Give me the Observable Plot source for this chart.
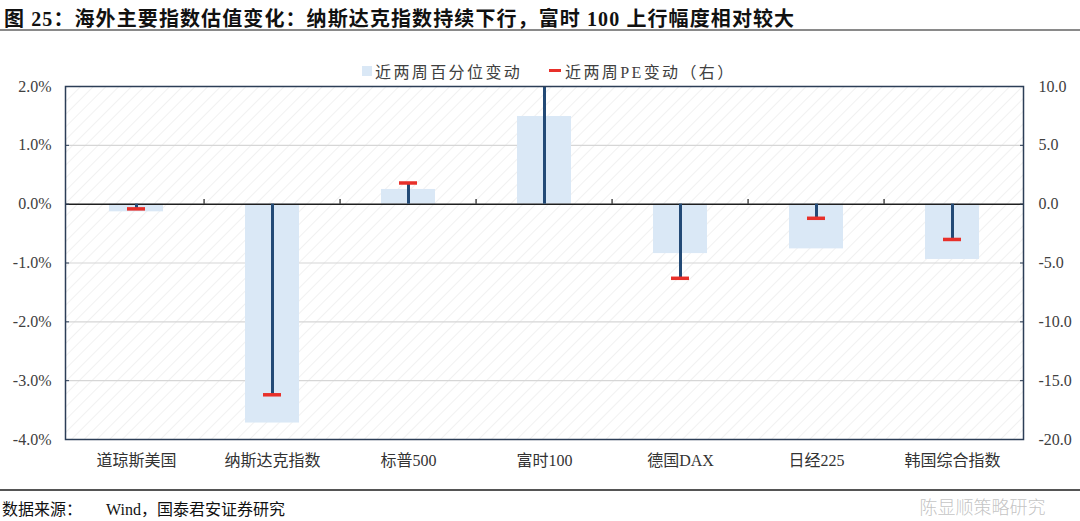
<!DOCTYPE html>
<html>
<head>
<meta charset="utf-8">
<script src="https://cdn.jsdelivr.net/npm/d3@7"></script>
<script src="https://cdn.jsdelivr.net/npm/@observablehq/plot@0.6"></script>
<style>
  html, body { margin: 0; padding: 0; background: #fff; }
  #wrap { position: relative; width: 1080px; height: 521px; overflow: hidden; font-family: "Liberation Serif", "Noto Sans CJK SC", serif; color: #404040; }
  #title { position: absolute; left: 4px; top: 3px; font-size: 20px; font-weight: bold; color: #111; white-space: nowrap; letter-spacing: 1.1px; }
  #titleRule { position: absolute; left: 0; top: 29px; width: 1080px; height: 2px; background: #8a8a8a; }
  #legend { position: absolute; top: 59px; left: 0; width: 1080px; height: 22px; font-size: 16px; color: #404040; }
  .lg { position: absolute; top: 0; white-space: nowrap; letter-spacing: 2.4px; }
  .sw { position: absolute; }
  #footRule { position: absolute; left: 0; top: 489px; width: 1080px; height: 2px; background: #555; }
  #foot { position: absolute; left: 2px; top: 496px; font-size: 16px; color: #111; white-space: nowrap; }
  svg { position: absolute; left: 0; top: 0; }
</style>
</head>
<body>
<div id="wrap">
  <div id="title">图 25：海外主要指数估值变化：纳斯达克指数持续下行，富时 100 上行幅度相对较大</div>
  <div id="titleRule"></div>
  <div id="legend">
    <div class="sw" style="left:362px;top:7px;width:10px;height:10px;background:#dae8f6;"></div>
    <div class="lg" style="left:375px;">近两周百分位变动</div>
    <div class="sw" style="left:549px;top:10px;width:12px;height:3px;background:#e8302a;"></div>
    <div class="lg" style="left:565px;">近两周PE变动（右）</div>
  </div>
  <div id="footRule"></div>
  <div id="foot">数据来源：&nbsp;&nbsp;&nbsp;&nbsp;&nbsp;&nbsp;Wind，国泰君安证券研究</div>
</div>
<script>
const categories = ["道琼斯美国", "纳斯达克指数", "标普500", "富时100", "德国DAX", "日经225", "韩国综合指数"];
const pctChange = [-0.13, -3.72, 0.25, 1.49, -0.84, -0.76, -0.94];   // left axis, %
const peChange  = [-0.4, -16.2, 1.8, 10.6, -6.3, -1.2, -3.0];        // right axis
const leftTicks = [2, 1, 0, -1, -2, -3, -4];
const rightTicks = [10, 5, 0, -5, -10, -15, -20];
const watermark = ["陈显顺策略研究"];
const ratio = 5; // right axis units per left axis unit

const data = categories.map((c, i) => ({cat: c, pct: pctChange[i], pe: peChange[i], peScaled: peChange[i] / ratio}));

const W = 1080, H = 521, mL = 65, mR = 57, mT = 86, mB = 82;
const step = (W - mL - mR) / categories.length;
const font = "Liberation Serif, Noto Sans CJK SC, serif";

const chart = Plot.plot({
  width: W, height: H,
  marginLeft: mL, marginRight: mR, marginTop: mT, marginBottom: mB,
  style: {fontFamily: font, fontSize: "16px", color: "#404040", background: "transparent"},
  x: {domain: categories, paddingInner: 0.6, paddingOuter: 0.3, axis: null, label: null},
  y: {domain: [-4, 2], axis: null, label: null},
  marks: [
    Plot.frame({fill: "url(#hatch)", stroke: "none"}),
    Plot.gridY(leftTicks.filter(d => d !== 0 && d !== 2 && d !== -4), {stroke: "#d6d6d6", strokeOpacity: 1, strokeWidth: 1.2}),
    Plot.barY(data, {x: "cat", y: "pct", fill: "#dae8f6"}),
    Plot.ruleY([0], {stroke: "#1e1e1e", strokeWidth: 1.5}),
    Plot.ruleX(categories.slice(1), {x: d => d, y1: 0, y2: 0.08, dx: -step / 2, stroke: "#1e1e1e", strokeWidth: 1.2}),
    Plot.ruleX(data, {x: "cat", y1: 0, y2: "peScaled", stroke: "#234a76", strokeWidth: 3, clip: true}),
    Plot.tickY(data, {x: "cat", y: "peScaled", stroke: "#e8302a", strokeWidth: 3.5, insetLeft: 18, insetRight: 18, clip: true}),
    Plot.axisY({anchor: "left", ticks: leftTicks, tickSize: -4, fill: "none", stroke: "#2c3e57", label: null}),
    Plot.axisY({anchor: "right", ticks: rightTicks.map(v => v / ratio), tickSize: -4, fill: "none", stroke: "#2c3e57", label: null}),
    Plot.axisY({anchor: "left", ticks: leftTicks, tickSize: 0, tickPadding: 14, tickFormat: d => d.toFixed(1) + "%", fill: "#404040", fontSize: 16, label: null}),
    Plot.axisY({anchor: "right", ticks: rightTicks.map(v => v / ratio), tickSize: 0, tickPadding: 15, tickFormat: d => (d * ratio).toFixed(1), fill: "#404040", fontSize: 16, label: null}),
    Plot.axisX({tickSize: 0, tickPadding: 15, fill: "#333", fontSize: 16, fontFamily: font, label: null}),
    Plot.frame({stroke: "#2c3e57", strokeWidth: 1.5}),
    Plot.text(watermark, {frameAnchor: "bottom-right", dx: 22, dy: 74, fill: "#b8b8b8", fillOpacity: 0.85, fontSize: 18, fontFamily: "Noto Sans CJK SC", fontWeight: 300, textAnchor: "end", lineAnchor: "bottom"})
  ]
});

// Hatched background pattern
const ns = "http://www.w3.org/2000/svg";
const defs = document.createElementNS(ns, "defs");
defs.innerHTML = `<pattern id="hatch" patternUnits="userSpaceOnUse" width="9" height="9" patternTransform="rotate(45)">
  <rect width="9" height="9" fill="#ffffff"></rect>
  <line x1="0" y1="0" x2="0" y2="9" stroke="#ececec" stroke-width="1.4"></line>
</pattern>`;
chart.insertBefore(defs, chart.firstChild);

document.getElementById("wrap").insertBefore(chart, document.getElementById("title"));
</script>
</body>
</html>
